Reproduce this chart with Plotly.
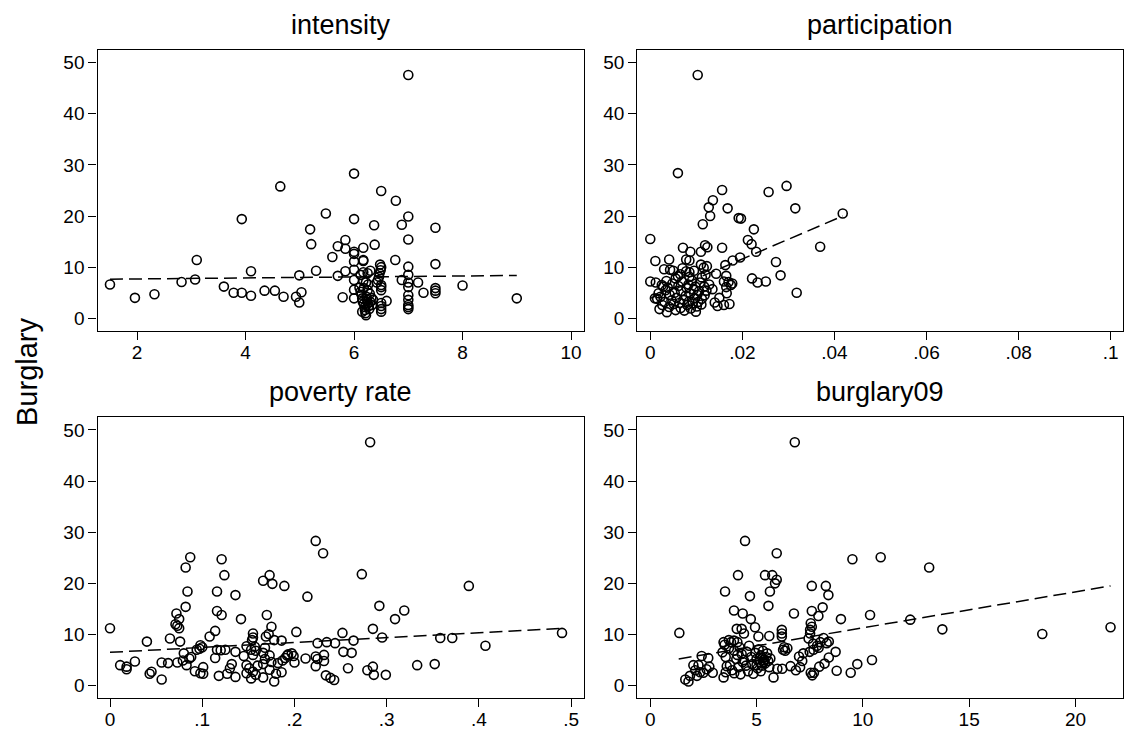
import plotly.graph_objects as go

# ---------------- data ----------------
titles = ["intensity", "participation", "poverty rate", "burglary09"]
y_label = "Burglary"

int_x = [1.50, 1.96, 2.32, 2.82, 3.07, 3.10, 3.60, 3.78, 3.93, 3.93, 4.10, 4.10, 4.35, 4.54, 4.64, 4.70, 4.93, 4.99, 5.03, 4.99,
         5.19, 5.21, 5.30, 5.48, 5.60, 5.70, 5.70, 5.79, 5.84, 5.84, 5.84,
         6.00, 6.00, 6.00, 6.00, 6.00, 6.00, 6.00, 6.00, 6.00,
         6.17, 6.17, 6.17, 6.17, 6.17,
         6.10, 6.12, 6.14, 6.15, 6.16, 6.18, 6.20, 6.20, 6.21, 6.22, 6.23, 6.24, 6.25, 6.25, 6.26, 6.27, 6.28, 6.29,
         6.30, 6.30, 6.32, 6.33, 6.22, 6.18, 6.15, 6.35, 6.12, 6.25,
         6.37, 6.38,
         6.48, 6.50, 6.49, 6.47, 6.46, 6.44, 6.42, 6.50, 6.50, 6.50, 6.50, 6.50, 6.50, 6.50,
         6.50, 6.60, 6.77, 6.76, 6.88, 6.88,
         7.00, 7.00, 7.00, 7.00, 7.00, 7.00, 7.00, 7.00, 7.00, 7.00, 7.00, 7.00,
         7.18, 7.28, 7.50, 7.50, 7.50, 7.50, 7.50, 8.00, 9.00]
int_y = [6.6, 4.0, 4.7, 7.1, 7.6, 11.4, 6.2, 5.0, 5.0, 19.4, 9.2, 4.4, 5.4, 5.4, 25.8, 4.2, 4.2, 8.4, 5.1, 3.1,
         17.4, 14.5, 9.3, 20.5, 12.0, 14.1, 8.3, 4.1, 15.3, 13.6, 9.2,
         28.3, 19.4, 13.0, 12.6, 11.1, 9.5, 7.5, 5.6, 3.9,
         13.8, 11.4, 11.2, 9.0, 7.3,
         6.0, 5.2, 4.6, 3.9, 3.3, 2.8, 2.2, 1.6, 1.0, 0.6, 4.2, 3.6, 2.9, 5.5, 6.6, 2.4, 1.8, 4.8,
         3.2, 9.3, 4.0, 2.6, 7.0, 5.9, 1.3, 3.6, 8.5, 8.8,
         18.2, 14.4,
         10.5, 10.0, 9.4, 8.8, 8.1, 7.5, 7.0, 6.5, 6.1, 5.5, 3.0, 2.4, 1.8, 1.3,
         24.9, 3.4, 23.0, 11.4, 18.3, 7.5,
         47.6, 19.9, 15.4, 10.1, 8.5, 7.0, 6.1, 4.5, 3.6, 2.6, 2.2, 1.8,
         7.0, 5.0, 17.7, 10.6, 5.9, 5.4, 4.9, 6.4, 3.9]

par_x = [0.0103, 0.0060, 0.0156, 0.0136, 0.0127, 0.0130, 0.0114, 0.0168, 0.0257, 0.0296, 0.0315, 0.0418, 0.0192, 0.0197,
         0.0225, 0.0000, 0.0212, 0.0220, 0.0119, 0.0124, 0.0156, 0.0071, 0.0087, 0.0110, 0.0230, 0.0369, 0.0011, 0.0041,
         0.0078, 0.0085, 0.0195, 0.0179, 0.0273, 0.0163, 0.0110, 0.0123, 0.0116, 0.0030, 0.0043, 0.0050, 0.0070, 0.0078,
         0.0085, 0.0095, 0.0283, 0.0143, 0.0165, 0.0120, 0.0112, 0.0060, 0.0055, 0.0000, 0.0012, 0.0025, 0.0160, 0.0170,
         0.0178, 0.0175, 0.0165, 0.0221, 0.0233, 0.0251, 0.0318, 0.0117, 0.0122, 0.0118, 0.0166, 0.0146, 0.0160, 0.0172,
         0.0099,
         0.0015, 0.0020, 0.0022, 0.0026, 0.0031, 0.0033, 0.0036, 0.0038, 0.0041, 0.0042, 0.0046, 0.0048, 0.0051, 0.0053,
         0.0055, 0.0057, 0.0061, 0.0063, 0.0066, 0.0067, 0.0069, 0.0072, 0.0074, 0.0077, 0.0079, 0.0080, 0.0083, 0.0084,
         0.0087, 0.0088, 0.0091, 0.0092, 0.0094, 0.0097, 0.0098, 0.0101, 0.0102, 0.0104, 0.0106, 0.0108, 0.0111, 0.0112,
         0.0085, 0.0065, 0.0035, 0.0028, 0.0018, 0.0010, 0.0150, 0.0140, 0.0135, 0.0128]
par_y = [47.6, 28.4, 25.1, 23.1, 21.7, 20.0, 18.4, 21.5, 24.7, 25.9, 21.5, 20.5, 19.6, 19.5,
         17.4, 15.5, 15.3, 14.5, 14.3, 13.9, 13.8, 13.8, 13.0, 13.0, 13.0, 14.0, 11.2, 11.5,
         11.5, 11.3, 11.9, 11.3, 11.0, 10.4, 10.5, 10.2, 9.9, 9.6, 9.5, 9.3, 9.8, 9.2,
         9.0, 9.3, 8.4, 8.7, 8.3, 8.5, 8.0, 8.2, 7.8, 7.2, 7.0, 6.5, 7.2, 7.1,
         6.8, 6.5, 6.1, 7.8, 7.0, 7.2, 5.0, 6.2, 5.4, 4.5, 4.9, 2.4, 2.6, 2.8,
         1.3,
         3.8, 1.8, 4.2, 2.6, 3.2, 5.5, 1.2, 6.0, 2.2, 4.6, 3.5, 6.8, 2.8, 5.0,
         1.6, 4.0, 6.3, 3.0, 2.0, 5.3, 7.2, 3.6, 1.5, 4.4, 5.9, 2.6, 6.6, 3.3,
         4.9, 1.9, 7.4, 2.9, 5.6, 3.9, 6.2, 2.3, 4.6, 3.2, 5.3, 7.0, 2.7, 3.8,
         8.1, 8.6, 7.3, 6.2, 4.9, 3.9, 4.0, 3.1, 5.7, 6.6]

pov_x = [0.000, 0.040, 0.065, 0.011, 0.018, 0.018, 0.027, 0.043, 0.045, 0.056, 0.056, 0.063, 0.073, 0.072, 0.071, 0.073,
         0.075, 0.075, 0.082, 0.084, 0.082, 0.087, 0.076, 0.080, 0.079, 0.083, 0.086, 0.088, 0.094, 0.098, 0.097, 0.100,
         0.092, 0.098, 0.101, 0.101, 0.108, 0.114, 0.116, 0.116, 0.121, 0.121, 0.124, 0.136, 0.142, 0.114, 0.116, 0.120,
         0.125, 0.118, 0.127, 0.132, 0.136, 0.130, 0.136, 0.145, 0.148, 0.155, 0.155, 0.154, 0.157, 0.158, 0.153, 0.155,
         0.148, 0.151, 0.155, 0.158, 0.148, 0.153, 0.160, 0.170, 0.169, 0.172, 0.175, 0.166, 0.173, 0.176, 0.189,
         0.178, 0.186, 0.168, 0.166, 0.173, 0.168, 0.175, 0.166, 0.182, 0.173, 0.180, 0.166, 0.178, 0.186, 0.190, 0.192,
         0.193, 0.187, 0.197, 0.199, 0.200,
         0.202, 0.214, 0.212, 0.223, 0.231, 0.225, 0.223, 0.225, 0.232, 0.223, 0.232, 0.234, 0.239, 0.243, 0.235, 0.244,
         0.252, 0.253, 0.262, 0.264, 0.258, 0.273, 0.279, 0.285, 0.286, 0.285, 0.282, 0.292, 0.295, 0.299, 0.309, 0.319,
         0.333, 0.352, 0.358, 0.371, 0.389, 0.407, 0.490]
pov_y = [11.2, 8.6, 9.2, 4.0, 3.7, 3.2, 4.7, 2.3, 2.7, 1.2, 4.5, 4.4, 4.5, 14.1, 12.0, 11.7,
         11.2, 13.0, 15.4, 18.4, 23.1, 25.1, 8.6, 6.3, 4.9, 4.0, 5.3, 5.6, 7.0, 7.9, 7.2, 7.5,
         2.8, 2.4, 3.6, 2.3, 9.6, 10.7, 18.4, 14.6, 13.8, 24.7, 21.6, 17.7, 13.0, 5.4, 7.0, 6.9,
         7.0, 1.9, 2.3, 4.2, 1.7, 3.4, 6.6, 5.8, 7.7, 10.2, 9.4, 8.9, 7.6, 6.8, 7.0, 6.0,
         4.0, 3.4, 2.7, 2.1, 2.4, 1.4, 3.9, 13.8, 9.6, 10.1, 11.5, 20.5, 21.6, 19.9, 19.5,
         8.9, 8.8, 7.4, 6.4, 5.9, 5.2, 4.6, 4.2, 4.4, 3.1, 2.3, 1.6, 0.8, 2.6, 5.4, 5.9,
         6.1, 4.9, 6.3, 5.8, 4.5,
         10.5, 17.4, 5.3, 28.3, 25.9, 8.3, 5.7, 5.2, 6.0, 3.8, 4.8, 2.0, 1.5, 1.1, 8.5, 8.3,
         10.3, 6.6, 6.4, 8.8, 3.4, 21.8, 3.0, 3.7, 2.1, 11.1, 47.6, 15.6, 9.4, 2.1, 13.0, 14.7,
         4.0, 4.2, 9.3, 9.3, 19.5, 7.8, 10.3]

bur_x = [6.80, 4.46, 5.95, 9.51, 10.84, 4.13, 5.40, 5.74, 5.95, 5.87, 3.52, 4.69, 5.63, 7.60, 8.26, 8.38, 5.56, 3.94,
         4.35, 6.76, 7.60, 8.11, 7.91, 8.97, 10.34, 4.73, 4.93, 4.07, 4.30, 4.41, 5.09, 1.37, 5.60, 6.19, 6.19, 6.19,
         7.55, 7.60, 7.52, 7.52, 7.45, 8.15, 8.00, 7.66, 7.85, 8.30, 3.45, 3.70, 3.94, 4.10, 2.03, 2.27, 2.12, 2.35,
         1.87, 1.65, 1.80, 2.20, 2.50, 2.65, 2.78, 2.42, 2.73, 2.94, 3.45, 3.55, 3.40, 3.55, 6.25, 6.35, 6.45, 6.30,
         7.20, 7.00, 7.50, 7.68, 7.92, 8.40, 8.20, 7.95, 7.55, 7.70, 7.62, 7.15, 7.05, 6.85, 6.60, 8.77, 9.43, 9.74,
         10.43, 5.80, 5.98, 6.21, 12.23, 13.12, 13.74, 18.44, 21.65, 8.72, 8.40,
         4.20, 4.30, 4.40, 4.50, 4.60, 4.25, 4.35, 4.55, 4.65, 4.75, 4.80, 4.85, 4.95, 5.00, 5.05, 5.10, 5.15, 5.20,
         5.25, 5.30, 5.35, 5.40, 5.45, 5.50, 5.55, 5.60, 5.65, 5.20, 5.00, 5.28, 5.33, 3.75, 3.85, 3.95, 4.05, 4.15,
         3.60, 3.70, 3.95, 4.10, 3.80, 3.50]
bur_y = [47.6, 28.3, 25.9, 24.7, 25.1, 21.6, 21.6, 21.6, 20.7, 20.0, 18.4, 17.5, 18.4, 19.5, 19.5, 17.7, 15.6, 14.7,
         14.1, 14.1, 14.6, 15.3, 13.6, 13.0, 13.8, 13.0, 11.4, 11.1, 11.1, 10.2, 9.6, 10.3, 9.7, 10.9, 10.2, 9.6,
         12.2, 11.5, 10.9, 10.2, 9.2, 9.3, 8.5, 8.2, 7.8, 8.3, 8.5, 8.9, 8.8, 8.5, 4.0, 4.0, 3.0, 2.6,
         1.9, 1.2, 0.8, 1.9, 2.5, 3.2, 3.7, 5.8, 5.4, 2.5, 1.6, 2.6, 6.5, 5.6, 7.0, 6.8, 7.3, 7.5,
         6.3, 5.7, 6.6, 7.0, 7.4, 5.5, 4.3, 3.7, 2.5, 2.5, 2.0, 4.8, 3.6, 3.0, 3.8, 2.9, 2.5, 4.2,
         5.0, 1.6, 3.3, 3.3, 12.9, 23.1, 11.0, 10.1, 11.4, 6.6, 8.6,
         7.5, 6.2, 5.0, 3.9, 2.8, 2.2, 4.6, 6.6, 7.8, 5.6, 4.2, 2.3, 6.4, 5.2, 3.4, 7.1, 4.6, 5.9,
         3.9, 6.8, 5.0, 4.3, 5.6, 6.3, 4.8, 3.6, 5.3, 2.8, 4.0, 5.4, 4.6, 4.0, 3.0, 2.4, 5.2, 3.6,
         3.8, 7.3, 6.8, 6.0, 8.5, 8.0]

# fitted (linear fit) lines
int_fit_x = [1.50, 9.00]
int_fit_y = [7.65, 8.37]
par_fit_x = [0.0, 0.0418]
par_fit_y = [3.9, 20.0]
pov_fit_x = [0.0, 0.490]
pov_fit_y = [6.5, 11.2]
bur_fit_x = [1.34, 21.65]
bur_fit_y = [5.2, 19.5]

y_ticks = [0, 10, 20, 30, 40, 50]
int_ticks = [2, 4, 6, 8, 10]
int_tick_text = ["2", "4", "6", "8", "10"]
par_ticks = [0, 0.02, 0.04, 0.06, 0.08, 0.1]
par_tick_text = ["0", ".02", ".04", ".06", ".08", ".1"]
pov_ticks = [0, 0.1, 0.2, 0.3, 0.4, 0.5]
pov_tick_text = ["0", ".1", ".2", ".3", ".4", ".5"]
bur_ticks = [0, 5, 10, 15, 20]
bur_tick_text = ["0", "5", "10", "15", "20"]

# ---------------- layout geometry (pixels) ----------------
W, H = 1128, 729
FONT = "Liberation Sans, Arial, sans-serif"

panels = [
    dict(x=int_x, y=int_y, fx=int_fit_x, fy=int_fit_y, ticks=int_ticks, tt=int_tick_text,
         xr=[1.27, 10.23], px=(97.5, 583.5), py=(50.0, 330.7)),
    dict(x=par_x, y=par_y, fx=par_fit_x, fy=par_fit_y, ticks=par_ticks, tt=par_tick_text,
         xr=[-0.00282, 0.10274], px=(637.3, 1123.3), py=(50.0, 330.7)),
    dict(x=pov_x, y=pov_y, fx=pov_fit_x, fy=pov_fit_y, ticks=pov_ticks, tt=pov_tick_text,
         xr=[-0.01355, 0.5133], px=(97.5, 583.5), py=(417.3, 698.0)),
    dict(x=bur_x, y=bur_y, fx=bur_fit_x, fy=bur_fit_y, ticks=bur_ticks, tt=bur_tick_text,
         xr=[-0.607, 22.25], px=(637.3, 1123.3), py=(417.3, 698.0)),
]
y_range = [-2.43, 52.48]

fig = go.Figure()
layout = dict(
    width=W, height=H,
    margin=dict(l=0, r=0, t=0, b=0),
    paper_bgcolor="white", plot_bgcolor="white",
    showlegend=False,
    font=dict(family=FONT, color="black"),
    annotations=[],
)

for i, p in enumerate(panels):
    n = "" if i == 0 else str(i + 1)
    xa, ya = "x" + n, "y" + n
    fig.add_trace(go.Scatter(
        x=p["fx"], y=p["fy"], mode="lines", xaxis=xa, yaxis=ya,
        line=dict(color="black", width=1.5, dash="13px,6px"), hoverinfo="skip"))
    fig.add_trace(go.Scatter(
        x=p["x"], y=p["y"], mode="markers", xaxis=xa, yaxis=ya,
        marker=dict(symbol="circle-open", size=9, color="black", line=dict(width=1.6, color="black"))))
    dx = [p["px"][0] / W, p["px"][1] / W]
    dy = [1 - p["py"][1] / H, 1 - p["py"][0] / H]
    common = dict(showgrid=False, zeroline=False, showline=True, mirror=True,
                  linecolor="black", linewidth=1.4, ticks="outside", ticklen=8,
                  tickwidth=1.2, tickcolor="black",
                  tickfont=dict(family=FONT, size=19, color="black"))
    layout["xaxis" + n] = dict(domain=dx, range=p["xr"], anchor=ya, ticklabelstandoff=-4,
                               tickmode="array", tickvals=p["ticks"], ticktext=p["tt"], **common)
    layout["yaxis" + n] = dict(domain=dy, range=y_range, anchor=xa,
                               tickmode="array", tickvals=y_ticks,
                               ticktext=[str(v) for v in y_ticks], **common)
    layout["annotations"].append(dict(
        text=titles[i], xref="paper", yref="paper",
        x=(p["px"][0] + p["px"][1]) / 2 / W, y=1 - (p["py"][0] - 25) / H,
        xanchor="center", yanchor="middle", showarrow=False,
        font=dict(family=FONT, size=27, color="black")))

layout["annotations"].append(dict(
    text=y_label, xref="paper", yref="paper", x=27 / W, y=1 - 372 / H,
    xanchor="center", yanchor="middle", textangle=-90, showarrow=False,
    font=dict(family=FONT, size=29, color="black")))

fig.update_layout(**layout)
fig.write_html("out.html", config={"displayModeBar": False},
               post_script="document.body.style.margin='0';document.body.style.overflow='hidden';")
